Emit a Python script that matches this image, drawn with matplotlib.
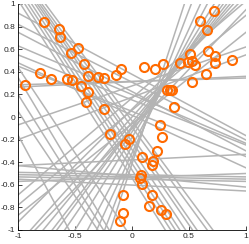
import matplotlib
matplotlib.use("Agg")
import matplotlib.pyplot as plt

# linie: nachylenie i wyraz wolny (y = a*x + b)
nachylenia = [-1.575, -1.5625, -1.55, -1.538, -1.515, -1.47, -1.449, -1.379, -1.361,
              -0.5425, -0.512, -0.4315, -0.399, -0.40, -0.525, -0.465,
              0.0475, 0.03,
              -0.095, -0.02, -0.02, -0.02, -0.0525, 0.035, 0.05,
              0.345, 0.375, 0.858, 0.84, 0.81, 1.0, 1.124, 1.054, 1.22, 1.307,
              1.37, 1.47, 1.639, 1.905, 2.198, 2.63, 3.08,
              -1.5, -1.6, -1.6875, -1.516, -1.87]
wyrazy_wolne = [-0.54, -0.469, -0.411, -0.354, -0.288, -0.22, -0.174, -0.09, -0.034,
                0.3775, 0.308, 0.1985, 0.151, 0.05, 0.225, 0.015,
                0.3125, 0.315,
                -0.525, -0.51, -0.53, -0.55, -0.6025, -0.535, -0.38,
                0.275, 0.175, 0.168, 0.06, -0.06, 0.07, 0.0, -0.104, -0.049, -0.085,
                -0.096, -0.132, -0.18, -0.257, -0.319, -0.368, -0.415,
                -1.45, -1.4, -1.3375, -1.076, -2.03]

# punkty (kolka)
punkty_x = [-0.775, -0.643, -0.629, -0.535, -0.474, -0.418, -0.383, -0.936, -0.81, -0.711,
            -0.573, -0.529, -0.45, -0.389, -0.401, -0.301, -0.246, -0.248, -0.14, -0.096,
            0.103, 0.202, 0.272, 0.424, 0.489, 0.511, 0.524, 0.55, 0.596, 0.716,
            0.658, 0.664, 0.731, 0.731, 0.88, 0.646, 0.526, 0.307, 0.336, 0.354,
            0.371, 0.246, 0.26, -0.023, -0.065, -0.193, 0.222, 0.09, 0.184, 0.173,
            0.082, 0.068, 0.09, 0.175, -0.082, 0.149, 0.252, 0.301, -0.076, -0.105]
punkty_y = [0.843, 0.776, 0.708, 0.564, 0.608, 0.466, 0.363, 0.283, 0.387, 0.336,
            0.336, 0.327, 0.277, 0.224, 0.133, 0.351, 0.345, 0.073, 0.369, 0.422,
            0.445, 0.422, 0.466, 0.481, 0.487, 0.558, 0.498, 0.463, 0.852, 0.935,
            0.77, 0.584, 0.543, 0.475, 0.501, 0.381, 0.31, 0.236, 0.236, 0.236,
            0.086, -0.073, -0.177, -0.197, -0.236, -0.153, -0.304, -0.354, -0.389, -0.427,
            -0.511, -0.54, -0.59, -0.688, -0.693, -0.79, -0.826, -0.856, -0.847, -0.92]

xticki = [-1, -0.5, 0, 0.5, 1]
yticki = [-1, -0.8, -0.6, -0.4, -0.2, 0, 0.2, 0.4, 0.6, 0.8, 1]

plt.rcParams['font.family'] = ['Liberation Sans', 'DejaVu Sans']
plt.rcParams['axes.unicode_minus'] = False

fig = plt.figure(figsize=(2.49, 2.44), dpi=100)
ax = fig.add_axes([18/249, 14/244, 228/249, 226/244])

for a, b in zip(nachylenia, wyrazy_wolne):
    ax.axline((0, b), slope=a, color='#b4b4b4', linewidth=1.1)

ax.plot(punkty_x, punkty_y, 'o', markerfacecolor='none', markeredgecolor='#ff6a00',
        markersize=6.5, markeredgewidth=1.5)

ax.set_xlim(-1, 1)
ax.set_ylim(-1, 1)
ax.set_xticks(xticki)
ax.set_yticks(yticki)
ax.set_xticklabels([f'{v:g}' for v in xticki])
ax.set_yticklabels([f'{v:g}' for v in yticki])
ax.tick_params(direction='in', length=3, width=0.6, labelsize=6, pad=2, colors='#262626')
ax.spines['top'].set_visible(False)
ax.spines['right'].set_visible(False)
ax.spines['left'].set_linewidth(0.6)
ax.spines['bottom'].set_linewidth(0.6)

fig.savefig('out.png', dpi=100)
